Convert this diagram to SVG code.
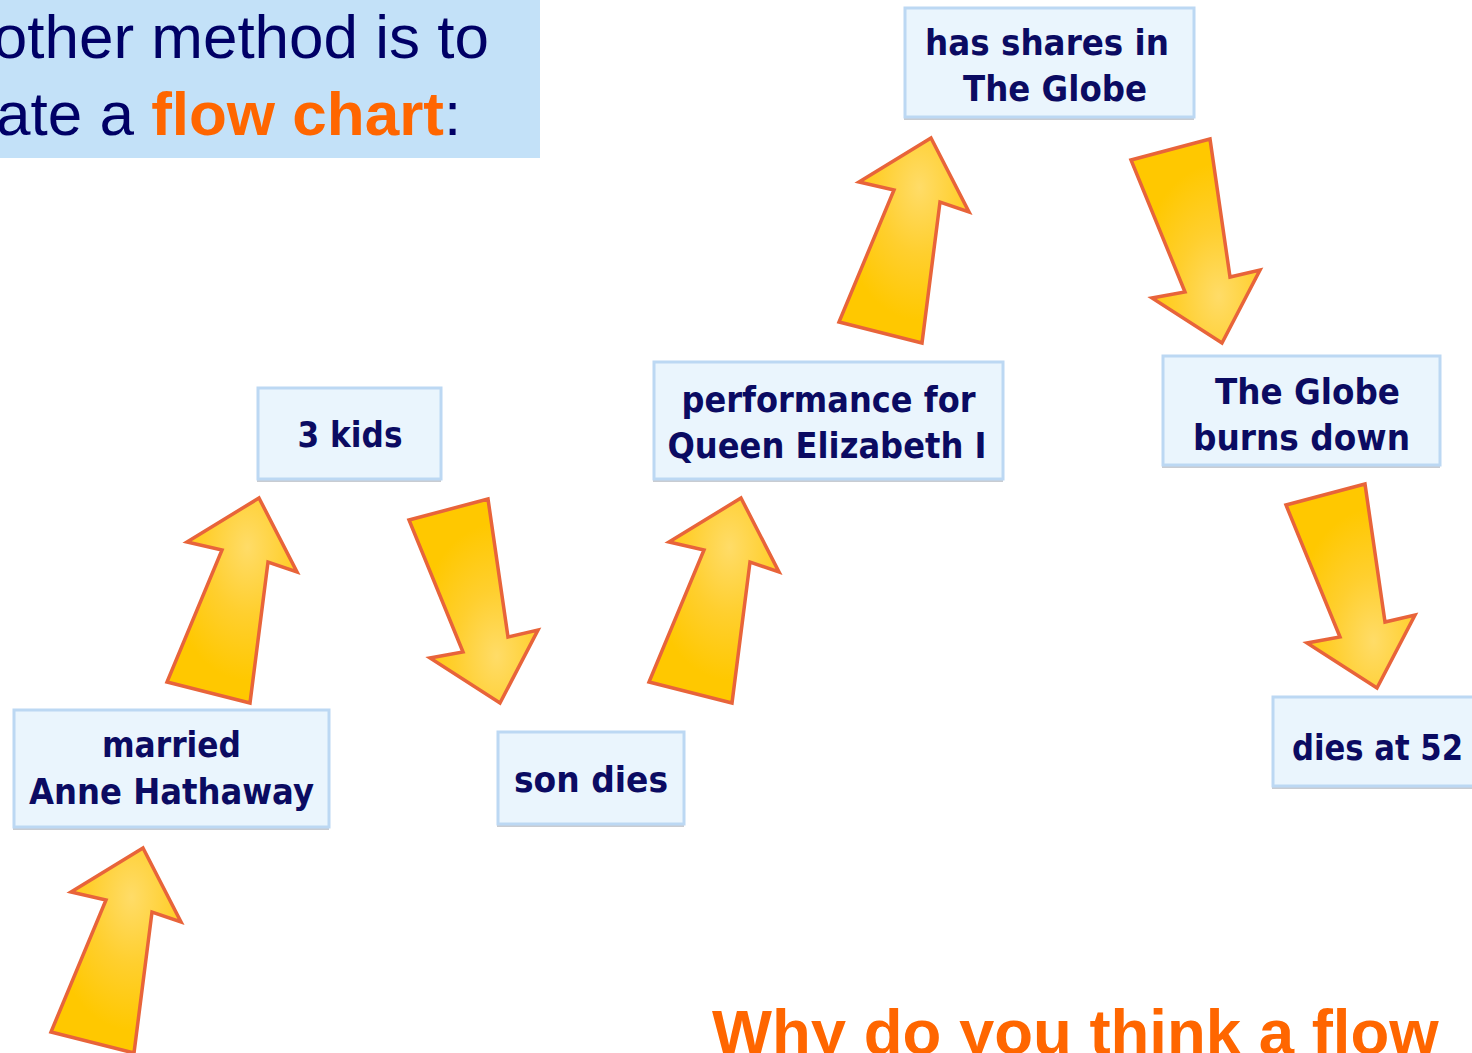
<svg xmlns="http://www.w3.org/2000/svg" xmlns:xlink="http://www.w3.org/1999/xlink" width="1472" height="1053" viewBox="0 0 1472 1053">
<style>
.box{fill:#EAF5FD;stroke:#BCD8F3;stroke-width:3}
.shadow{fill:#9AA3AD;opacity:0.55}
.lbl{font-family:"DejaVu Sans","Liberation Sans",sans-serif;font-weight:bold;font-size:35px;fill:#0B0B62;text-anchor:middle}
.title{font-family:"Liberation Sans",Arial,sans-serif;font-size:62px;fill:#000066}
.hl{font-weight:bold;fill:#FF6600}
.q{font-family:"Liberation Sans",Arial,sans-serif;font-size:63.5px;font-weight:bold;fill:#FF6600}
.arrow{stroke:#E8643A;stroke-width:3.5;stroke-linejoin:miter}
.up{fill:url(#gUp)}
.down{fill:url(#gDown)}
</style>
<defs>
<radialGradient id="gUp" cx="0.62" cy="0.24" r="0.65">
<stop offset="0" stop-color="#FFDC68"/>
<stop offset="0.5" stop-color="#FFCF2E"/>
<stop offset="1" stop-color="#FFC800"/>
</radialGradient>
<radialGradient id="gDown" cx="0.68" cy="0.77" r="0.65">
<stop offset="0" stop-color="#FFDC68"/>
<stop offset="0.5" stop-color="#FFCF2E"/>
<stop offset="1" stop-color="#FFC800"/>
</radialGradient>
<path id="upArrow" d="M0,0 L38,74 L9,64 L-9,205 L-92,184 L-37,52 L-72,44 Z"/>
<path id="downArrow" d="M0,0 L38,-73 L8,-66 L-12,-204 L-91,-183 L-37,-51 L-70,-45 Z"/>
</defs>
<rect width="1472" height="1053" fill="#FFFFFF"/>

<g id="title">
<rect x="0" y="0" width="540" height="158" fill="#C3E1F8"/>
<text class="title" x="489" y="58" text-anchor="end">other method is to</text>
<text class="title" x="-4" y="135">ate a <tspan class="hl">flow chart</tspan>:</text>
</g>

<g id="connectors">
<use xlink:href="#upArrow" class="arrow up" transform="translate(143,848)"/>
<use xlink:href="#upArrow" class="arrow up" transform="translate(259,498)"/>
<use xlink:href="#downArrow" class="arrow down" transform="translate(500,703)"/>
<use xlink:href="#upArrow" class="arrow up" transform="translate(741,498)"/>
<use xlink:href="#upArrow" class="arrow up" transform="translate(931,138)"/>
<use xlink:href="#downArrow" class="arrow down" transform="translate(1222,343)"/>
<use xlink:href="#downArrow" class="arrow down" transform="translate(1377,688)"/>
</g>

<g id="node-married">
<rect class="shadow" x="13" y="711" width="316" height="119"/>
<rect class="box" x="14" y="710" width="315" height="117"/>
<text class="lbl" x="171.5" y="757" textLength="139" lengthAdjust="spacingAndGlyphs">married</text>
<text class="lbl" x="171.5" y="804" textLength="285" lengthAdjust="spacingAndGlyphs">Anne Hathaway</text>
</g>

<g id="node-kids">
<rect class="shadow" x="257" y="389" width="184" height="93"/>
<rect class="box" x="258" y="388" width="183" height="91"/>
<text class="lbl" x="350" y="447" textLength="105" lengthAdjust="spacingAndGlyphs">3 kids</text>
</g>

<g id="node-son">
<rect class="shadow" x="497" y="733" width="187" height="94"/>
<rect class="box" x="498" y="732" width="186" height="92"/>
<text class="lbl" x="591" y="792" textLength="154" lengthAdjust="spacingAndGlyphs">son dies</text>
</g>

<g id="node-performance">
<rect class="shadow" x="653" y="363" width="350" height="119"/>
<rect class="box" x="654" y="362" width="349" height="117"/>
<text class="lbl" x="828.5" y="412" textLength="294" lengthAdjust="spacingAndGlyphs">performance for</text>
<text class="lbl" x="827" y="458" textLength="319" lengthAdjust="spacingAndGlyphs">Queen Elizabeth I</text>
</g>

<g id="node-shares">
<rect class="shadow" x="904" y="9" width="290" height="111"/>
<rect class="box" x="905" y="8" width="289" height="109"/>
<text class="lbl" x="1047" y="55" textLength="244" lengthAdjust="spacingAndGlyphs">has shares in</text>
<text class="lbl" x="1055" y="101" textLength="184" lengthAdjust="spacingAndGlyphs">The Globe</text>
</g>

<g id="node-burns">
<rect class="shadow" x="1162" y="357" width="278" height="111"/>
<rect class="box" x="1163" y="356" width="277" height="109"/>
<text class="lbl" x="1307.5" y="404" textLength="185" lengthAdjust="spacingAndGlyphs">The Globe</text>
<text class="lbl" x="1301.5" y="450" textLength="217" lengthAdjust="spacingAndGlyphs">burns down</text>
</g>

<g id="node-dies">
<rect class="shadow" x="1272" y="698" width="210" height="91"/>
<rect class="box" x="1273" y="697" width="210" height="89"/>
<text class="lbl" x="1377.5" y="760" textLength="171" lengthAdjust="spacingAndGlyphs">dies at 52</text>
</g>

<g id="question">
<text class="q" x="712" y="1054">Why do you think a flow</text>
</g>
</svg>
